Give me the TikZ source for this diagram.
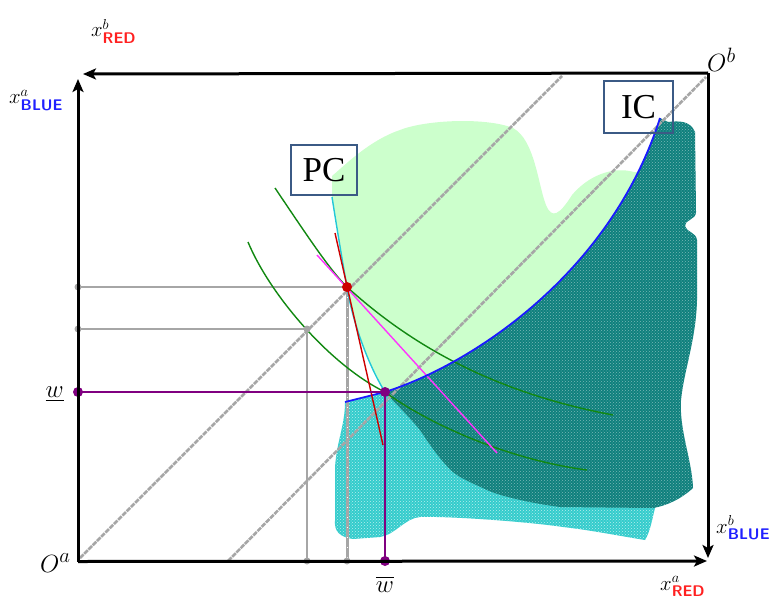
\documentclass[tikz,border=0pt]{standalone}
\usepackage{amsmath}
\usepackage{fontspec}
\setmainfont{Liberation Serif}
\usetikzlibrary{arrows.meta,patterns}
\definecolor{lgreen}{HTML}{CCFFCC}
\definecolor{dteal}{HTML}{0F807D}
\definecolor{lcyan}{HTML}{33CCCC}
\definecolor{boxblue}{HTML}{3B5A85}
\definecolor{icblue}{HTML}{1A1AFF}
\definecolor{pcyan}{HTML}{22C8D8}
\definecolor{dred}{HTML}{CC0000}
\definecolor{mag}{HTML}{FF33FF}
\definecolor{dgreen}{HTML}{118811}
\definecolor{purp}{HTML}{800080}
\definecolor{gline}{HTML}{A6A6A6}
\definecolor{redlab}{HTML}{FF2020}
\definecolor{bluelab}{HTML}{2020FF}
\begin{document}
\begin{tikzpicture}[x=1pt,y=-1pt,
  axis/.style={line width=3pt,-{Stealth[length=13pt,width=11pt,inset=3pt]}},
  diag/.style={draw=gline,line width=2.6pt,dash pattern=on 5pt off 1pt},
  gridline/.style={draw=gline,line width=1.8pt},
  gdot/.style={circle,fill=gline,inner sep=0pt,minimum size=7pt},
  pdot/.style={circle,fill=purp,inner sep=0pt,minimum size=10pt},
  rdot/.style={circle,fill=dred,inner sep=0pt,minimum size=10pt},
  lbox/.style={draw=boxblue,line width=1.5pt,inner sep=0pt,font=\fontsize{35}{35}\selectfont},
  axlab/.style={inner sep=0pt,font=\fontsize{22}{22}\selectfont},
  olab/.style={inner sep=0pt,font=\fontsize{28}{28}\selectfont},
  wlab/.style={inner sep=0pt,font=\fontsize{26}{26}\selectfont},
  curve/.style={line width=1.4pt}]
\useasboundingbox (0,0) rectangle (770,599);

% ---- regions ----
\fill[lgreen] (332,197) -- (332,176) .. controls (345,165) and (370,140) .. (400,130)
  .. controls (425,120) and (485,117) .. (513,128) .. controls (535,140) and (538,185) .. (546,205)
  .. controls (552,220) and (560,214) .. (572,195) .. controls (588,176) and (612,166) .. (634,172)
  -- (680,172) -- (600,330) -- (385,393)
  .. controls (368,365) and (352,320) .. (347,287) .. controls (343,265) and (338,235) .. (332,197) -- cycle;

\path[fill=lcyan] (345,402) -- (385,393) -- (560,430) -- (658,498) -- (655,508)
  .. controls (652,520) and (650,532) .. (645,540) .. controls (620,536) and (590,530) .. (563,527)
  .. controls (530,522) and (450,516) .. (420,517) .. controls (405,518) and (395,535) .. (380,537)
  -- (353,539) .. controls (340,537) and (334,532) .. (335,520) -- (335,467) .. controls (337,440) and (345,425) .. (345,402) -- cycle;
\path[pattern=crosshatch dots,pattern color=white!65!lcyan] (345,402) -- (385,393) -- (560,430) -- (658,498) -- (655,508)
  .. controls (652,520) and (650,532) .. (645,540) .. controls (620,536) and (590,530) .. (563,527)
  .. controls (530,522) and (450,516) .. (420,517) .. controls (405,518) and (395,535) .. (380,537)
  -- (353,539) .. controls (340,537) and (334,532) .. (335,520) -- (335,467) .. controls (337,440) and (345,425) .. (345,402) -- cycle;

\path[fill=dteal] (385,393) .. controls (470,365) and (610,275) .. (660,118)
  -- (668,122) .. controls (678,121) and (690,120) .. (695,132) -- (696,212)
  .. controls (696,220) and (684,220) .. (685,226) .. controls (686,232) and (696,232) .. (697,240)
  -- (697,300) .. controls (696,340) and (684,370) .. (681,400) .. controls (679,430) and (692,460) .. (693,488)
  .. controls (680,500) and (665,506) .. (653,508) -- (560,507) .. controls (530,503) and (500,496) .. (487,490)
  .. controls (470,482) and (460,478) .. (453,472) .. controls (440,460) and (430,445) .. (420,430)
  .. controls (410,418) and (395,402) .. (385,393) -- cycle;
\path[pattern=crosshatch dots,pattern color=white!45!dteal] (385,393) .. controls (470,365) and (610,275) .. (660,118)
  -- (668,122) .. controls (678,121) and (690,120) .. (695,132) -- (696,212)
  .. controls (696,220) and (684,220) .. (685,226) .. controls (686,232) and (696,232) .. (697,240)
  -- (697,300) .. controls (696,340) and (684,370) .. (681,400) .. controls (679,430) and (692,460) .. (693,488)
  .. controls (680,500) and (665,506) .. (653,508) -- (560,507) .. controls (530,503) and (500,496) .. (487,490)
  .. controls (470,482) and (460,478) .. (453,472) .. controls (440,460) and (430,445) .. (420,430)
  .. controls (410,418) and (395,402) .. (385,393) -- cycle;

% ---- key points ----
\coordinate (Oa) at (80,558);
\coordinate (D1end) at (562,76);
\coordinate (D2start) at (228,561);
\coordinate (Obc) at (706,77);
\coordinate (R) at (347,287);
\coordinate (G) at (307,329);
\coordinate (P) at (385,392);
\coordinate (Lr) at (78,287);
\coordinate (Lg) at (78,329);
\coordinate (Lp) at (78,392);
\coordinate (Bg) at (307,561);
\coordinate (Br) at (347,561);
\coordinate (Bp) at (385,561);
\coordinate (TLv) at (78,79);
\coordinate (TLh) at (83,74);
\coordinate (BRv) at (708,558);
\coordinate (BRh) at (707,561);
\coordinate (BLs) at (78,561.5);
\coordinate (TRs) at (708,73);

% ---- diagonals ----
\draw[diag] (Oa) -- (D1end);
\draw[diag] (D2start) -- (Obc);

% ---- gray grid lines ----
\draw[gridline] (Lr) -- (R);
\draw[gridline] (Lg) -- (G);
\draw[gridline] (G) -- (Bg);
\draw[draw=gline,line width=3pt] (R) -- (Br);
\draw[white,line width=0.8pt,dash pattern=on 1pt off 9pt] (R) -- (Br);

% ---- curves ----
\draw[curve,dgreen] (275,188) .. controls (310,240) and (330,270) .. (R)
  .. controls (400,335) and (480,390) .. (613,415);
\draw[curve,dgreen] (248,242) .. controls (270,295) and (330,365) .. (P)
  .. controls (430,425) and (510,460) .. (587,470);
\draw[curve,mag] (317,255) -- (497,453);
\draw[curve,icblue,line width=1.8pt] (345,402) -- (P) .. controls (470,365) and (610,275) .. (660,118);
\draw[curve,pcyan] (332,197) .. controls (338,235) and (343,265) .. (R)
  .. controls (352,320) and (368,365) .. (P);
\draw[curve,dred] (335,233) -- (383,445);

% ---- purple lines ----
\draw[purp,line width=2.2pt] (Lp) -- (P);
\draw[purp,line width=2.2pt] (P) -- (Bp);

% ---- dots ----
\node[gdot] at (Lr) {};
\node[gdot] at (Lg) {};
\node[gdot] at (G) {};
\node[gdot] at (Bg) {};
\node[gdot] at (Br) {};
\node[pdot] at (Lp) {};
\node[pdot] at (P) {};
\node[pdot] at (Bp) {};
\node[rdot] at (R) {};

% ---- boxes ----
\node[lbox,minimum width=66pt,minimum height=50pt] (PC) at (324,170) {PC};
\node[lbox,minimum width=69pt,minimum height=52pt] (IC) at (638.5,107) {IC};

% ---- axes ----
\draw[axis] (BLs) -- (TLv);
\draw[axis] (TRs) -- (TLh);
\draw[axis] (TRs) -- (BRv);
\draw[axis] (BLs) -- (BRh);

% ---- labels ----
\node[axlab,anchor=base west] (xbRED) at (91,37) {$x^{b}_{\text{\sffamily\bfseries\color{redlab}RED}}$};
\node[axlab,anchor=base west] (xaBLUE) at (9,104) {$x^{a}_{\text{\sffamily\bfseries\color{bluelab}BLUE}}$};
\node[axlab,anchor=base west] (xbBLUE) at (716,533) {$x^{b}_{\text{\sffamily\bfseries\color{bluelab}BLUE}}$};
\node[axlab,anchor=base west] (xaRED) at (660,590) {$x^{a}_{\text{\sffamily\bfseries\color{redlab}RED}}$};
\node[olab,anchor=base west] (OaL) at (40,572) {$O^{a}$};
\node[olab,anchor=base west] (ObL) at (707,72) {$O^{b}$};
\node[wlab,anchor=base east] (wlow) at (64,397) {$\underline{w}$};
\node[wlab,anchor=base] (wbar) at (385,592) {$\overline{w}$};
\end{tikzpicture}
\end{document}
